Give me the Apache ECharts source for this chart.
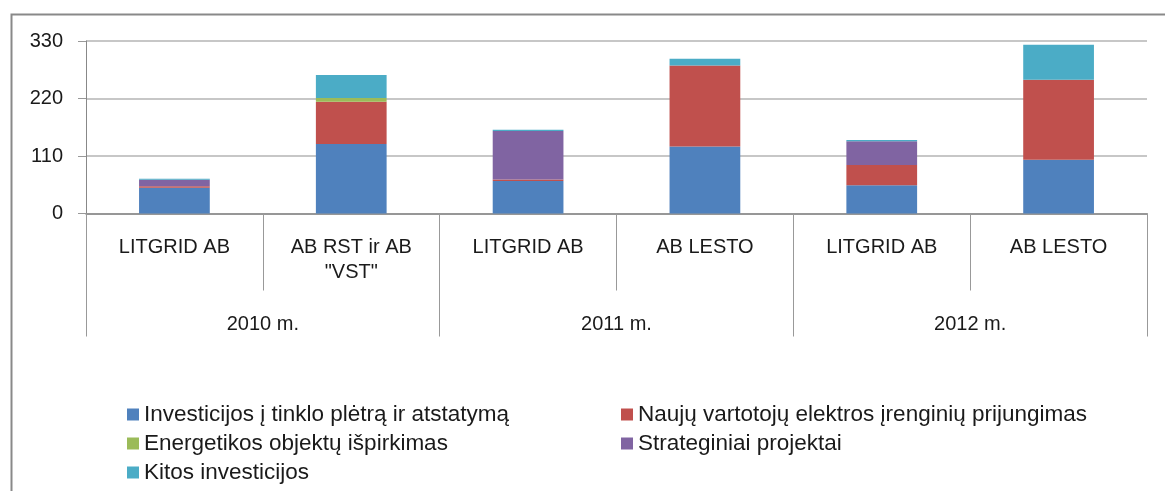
<!DOCTYPE html>
<html>
<head>
<meta charset="utf-8">
<script src="https://cdn.jsdelivr.net/npm/echarts@6/dist/echarts.min.js"></script>
<style>
  html, body { margin: 0; padding: 0; background: #fff; }
  #chart { width: 1165px; height: 491px; }
</style>
</head>
<body>
<div id="chart"></div>
<script>
// imones (pirmas x asies lygis) ir metai (antras lygis)
var categories = ['LITGRID AB', 'AB RST ir AB\n"VST"', 'LITGRID AB', 'AB LESTO', 'LITGRID AB', 'AB LESTO'];
var years = ['2010 m.', '2011 m.', '2012 m.'];
var yTicks = [0, 110, 220, 330];

var seriesNames = [
  'Investicijos į tinklo plėtrą ir atstatymą',
  'Naujų vartotojų elektros įrenginių prijungimas',
  'Energetikos objektų išpirkimas',
  'Strateginiai projektai',
  'Kitos investicijos'
];
var investicijos = [49.5, 133, 62, 128, 54, 103];
var naujiVartotojai = [2.5, 81, 3, 155, 39, 153];
var energetikos = [0, 7, 0, 0, 0, 0];
var strateginiai = [12.5, 0, 93, 0, 45, 0];
var kitos = [2, 44, 2, 13, 2.5, 67];

var colors = ['#4F81BD', '#C0504D', '#9BBB59', '#8064A2', '#4BACC6'];
var font = "'Liberation Sans Narrow', 'Liberation Sans', sans-serif";

var chart = echarts.init(document.getElementById('chart'));

function bar(name, data) {
  return {
    name: name,
    type: 'bar',
    stack: 'viso',
    barWidth: '40%',
    xAxisIndex: 0,
    data: data
  };
}

chart.setOption({
  animation: false,
  color: colors,
  textStyle: { fontFamily: font },
  graphic: [{
    type: 'rect',
    left: 9, top: 12,
    shape: { width: 1300, height: 600 },
    style: { fill: 'none', stroke: '#898989', lineWidth: 2 }
  }],
  grid: { left: 86, right: 18, top: 41, bottom: 277.5 },
  legend: [
    {
      data: [seriesNames[0], seriesNames[2], seriesNames[4]],
      orient: 'vertical', left: 122, top: 398,
      icon: 'rect', itemWidth: 12, itemHeight: 12, itemGap: 6,
      textStyle: { fontFamily: font, fontSize: 22.5, color: '#1a1a1a' }
    },
    {
      data: [seriesNames[1], seriesNames[3]],
      orient: 'vertical', left: 616, top: 398,
      icon: 'rect', itemWidth: 12, itemHeight: 12, itemGap: 6,
      textStyle: { fontFamily: font, fontSize: 22.5, color: '#1a1a1a' }
    }
  ],
  xAxis: [
    {
      type: 'category',
      data: categories,
      axisLine: { lineStyle: { color: '#888', width: 1.5 } },
      axisTick: { show: true, interval: 0, length: 77, lineStyle: { color: '#999', width: 1 } },
      axisLabel: { interval: 0, margin: 21, lineHeight: 25, fontSize: 20, color: '#1a1a1a', fontFamily: font }
    },
    {
      type: 'category',
      position: 'bottom',
      data: years,
      axisLine: { show: false },
      axisTick: { show: true, interval: 0, length: 123, lineStyle: { color: '#999', width: 1 } },
      axisLabel: { interval: 0, margin: 98, lineHeight: 25, fontSize: 20, color: '#1a1a1a', fontFamily: font }
    }
  ],
  yAxis: {
    type: 'value',
    min: yTicks[0],
    max: yTicks[yTicks.length - 1],
    interval: yTicks[1] - yTicks[0],
    axisLine: { show: true, lineStyle: { color: '#888', width: 1 } },
    axisTick: { show: true, length: 8, lineStyle: { color: '#999', width: 1 } },
    splitLine: { lineStyle: { color: '#b5b5b5', width: 1.5 } },
    axisLabel: { margin: 23, fontSize: 20, color: '#1a1a1a', fontFamily: font }
  },
  series: [
    bar(seriesNames[0], investicijos),
    bar(seriesNames[1], naujiVartotojai),
    bar(seriesNames[2], energetikos),
    bar(seriesNames[3], strateginiai),
    bar(seriesNames[4], kitos)
  ]
});
</script>
</body>
</html>
